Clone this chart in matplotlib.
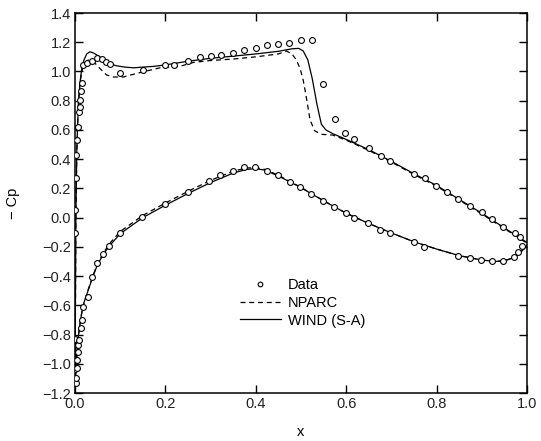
import matplotlib
matplotlib.use("Agg")
import matplotlib.pyplot as plt
from matplotlib.legend_handler import HandlerLine2D
import numpy as np

plt.rcParams['font.family'] = ['Liberation Sans', 'DejaVu Sans']

# experimental data, upper surface
data_up_x = [0.0, 0.0, 0.002, 0.0015, 0.004, 0.006, 0.008, 0.010, 0.011, 0.013, 0.015,
             0.017, 0.026, 0.037, 0.048, 0.059, 0.069, 0.077, 0.099, 0.151, 0.199,
             0.219, 0.250, 0.277, 0.300, 0.323, 0.349, 0.375, 0.400, 0.424, 0.450,
             0.474, 0.499, 0.525, 0.549, 0.575, 0.597, 0.617, 0.650, 0.676, 0.698,
             0.749, 0.774, 0.799, 0.822, 0.848, 0.874, 0.900, 0.922, 0.947, 0.973, 0.985]
data_up_cp = [-0.107, 0.05, 0.269, 0.428, 0.531, 0.622, 0.725, 0.759, 0.805, 0.868, 0.919,
              1.044, 1.056, 1.074, 1.090, 1.083, 1.067, 1.049, 0.987, 1.012, 1.046,
              1.046, 1.070, 1.098, 1.108, 1.115, 1.124, 1.147, 1.158, 1.181, 1.188,
              1.197, 1.215, 1.215, 0.912, 0.675, 0.577, 0.538, 0.478, 0.421, 0.387,
              0.298, 0.269, 0.217, 0.173, 0.127, 0.081, 0.036, -0.010, -0.062, -0.107, -0.131]

# experimental data, lower surface
data_lo_x = [0.002, 0.0015, 0.0, 0.005, 0.005, 0.007, 0.0, 0.007, 0.009, 0.013, 0.015,
             0.018, 0.028, 0.038, 0.049, 0.063, 0.076, 0.100, 0.148, 0.199, 0.249,
             0.297, 0.321, 0.349, 0.374, 0.398, 0.424, 0.450, 0.476, 0.498, 0.523,
             0.549, 0.572, 0.599, 0.618, 0.649, 0.675, 0.698, 0.749, 0.773, 0.848,
             0.874, 0.898, 0.923, 0.948, 0.972, 0.981, 0.988]
data_lo_cp = [-1.134, -1.10, -1.036, -1.03, -0.974, -0.917, -0.833, -0.872, -0.838, -0.758, -0.70,
              -0.614, -0.541, -0.404, -0.313, -0.249, -0.193, -0.105, 0.006, 0.090, 0.177,
              0.250, 0.291, 0.321, 0.344, 0.348, 0.321, 0.291, 0.246, 0.209, 0.165,
              0.116, 0.075, 0.029, -0.005, -0.039, -0.085, -0.107, -0.169, -0.199, -0.261,
              -0.279, -0.290, -0.295, -0.295, -0.272, -0.233, -0.194]

# WIND (S-A)
wind_up_x = [0.0, 0.001, 0.002, 0.004, 0.006, 0.008, 0.011, 0.015, 0.020, 0.026, 0.033,
             0.042, 0.055, 0.070, 0.090, 0.110, 0.130, 0.150, 0.175, 0.200, 0.250,
             0.300, 0.350, 0.400, 0.450, 0.480, 0.495, 0.505, 0.515, 0.525, 0.535,
             0.545, 0.555, 0.570, 0.600, 0.650, 0.700, 0.750, 0.800, 0.850, 0.900,
             0.950, 0.980, 1.000]
wind_up_cp = [-1.15, -0.60, 0.0, 0.45, 0.65, 0.80, 0.92, 1.02, 1.08, 1.12, 1.135,
              1.125, 1.10, 1.065, 1.04, 1.03, 1.025, 1.03, 1.035, 1.045, 1.07,
              1.09, 1.105, 1.12, 1.138, 1.155, 1.158, 1.14, 1.08, 0.95, 0.78,
              0.64, 0.60, 0.575, 0.535, 0.465, 0.385, 0.30, 0.22, 0.125, 0.03,
              -0.07, -0.13, -0.17]
wind_lo_x = [0.0, 0.003, 0.006, 0.010, 0.015, 0.020, 0.030, 0.040, 0.050, 0.065, 0.080,
             0.100, 0.150, 0.200, 0.250, 0.300, 0.350, 0.380, 0.400, 0.420, 0.450,
             0.500, 0.550, 0.600, 0.650, 0.700, 0.750, 0.800, 0.850, 0.900, 0.930,
             0.950, 0.970, 0.985, 1.000]
wind_lo_cp = [-1.15, -1.00, -0.85, -0.75, -0.65, -0.58, -0.49, -0.40, -0.32, -0.24, -0.18,
              -0.11, 0.0, 0.085, 0.165, 0.24, 0.305, 0.33, 0.335, 0.325, 0.285,
              0.205, 0.115, 0.03, -0.04, -0.105, -0.165, -0.215, -0.26, -0.29, -0.30,
              -0.295, -0.275, -0.24, -0.19]

# NPARC
nparc_up_x = [0.0, 0.001, 0.002, 0.004, 0.006, 0.008, 0.011, 0.015, 0.020, 0.029, 0.041,
              0.055, 0.070, 0.085, 0.107, 0.122, 0.151, 0.188, 0.232, 0.262, 0.300,
              0.350, 0.400, 0.450, 0.468, 0.480, 0.490, 0.498, 0.505, 0.512, 0.520,
              0.530, 0.545, 0.570, 0.600, 0.650, 0.700, 0.750, 0.800, 0.850, 0.900,
              0.950, 0.980, 1.000]
nparc_up_cp = [-1.15, -0.60, 0.0, 0.45, 0.65, 0.80, 0.92, 1.00, 1.05, 1.078, 1.067,
               1.021, 0.976, 0.962, 0.962, 0.975, 0.998, 1.025, 1.035, 1.062, 1.075,
               1.085, 1.10, 1.12, 1.14, 1.12, 1.078, 1.02, 0.94, 0.82, 0.67,
               0.595, 0.57, 0.565, 0.53, 0.46, 0.38, 0.295, 0.215, 0.12, 0.025,
               -0.075, -0.135, -0.175]
nparc_lo_x = [0.0, 0.003, 0.006, 0.010, 0.015, 0.020, 0.030, 0.040, 0.050, 0.065, 0.080,
              0.100, 0.150, 0.200, 0.250, 0.300, 0.350, 0.380, 0.400, 0.420, 0.450,
              0.500, 0.550, 0.600, 0.650, 0.700, 0.750, 0.800, 0.850, 0.900, 0.930,
              0.950, 0.970, 0.985, 1.000]
nparc_lo_cp = [-1.15, -1.00, -0.85, -0.75, -0.65, -0.58, -0.485, -0.395, -0.315, -0.23, -0.165,
               -0.095, 0.015, 0.10, 0.18, 0.255, 0.318, 0.34, 0.342, 0.33, 0.29,
               0.207, 0.116, 0.03, -0.04, -0.105, -0.165, -0.215, -0.26, -0.29, -0.30,
               -0.295, -0.275, -0.24, -0.19]


class MarkerAtRight(HandlerLine2D):
    def get_xdata(self, legend, xdescent, ydescent, width, height, fontsize):
        xdata = np.array([-xdescent, -xdescent + width])
        return xdata, np.array([-xdescent + width - 3])


fig = plt.figure(figsize=(5.41, 4.41), dpi=100)
ax = fig.add_axes([0.1386, 0.1088, 0.8355, 0.8617])

ax.plot(data_up_x, data_up_cp, linestyle='none', marker='o', ms=4.2, mfc='white',
        mec='black', mew=0.8, label='Data', zorder=3)
ax.plot(data_lo_x, data_lo_cp, linestyle='none', marker='o', ms=4.2, mfc='white',
        mec='black', mew=0.8, zorder=3)
ax.plot(nparc_up_x, nparc_up_cp, color='black', lw=0.9, linestyle=(0, (4, 3)), label='NPARC')
ax.plot(nparc_lo_x, nparc_lo_cp, color='black', lw=0.9, linestyle=(0, (4, 3)))
ax.plot(wind_up_x, wind_up_cp, color='black', lw=0.9, label='WIND (S-A)')
ax.plot(wind_lo_x, wind_lo_cp, color='black', lw=0.9)

ax.set_xlim(0, 1)
ax.set_ylim(-1.2, 1.4)
ax.set_xticks(np.arange(0, 1.01, 0.2))
ax.set_yticks(np.arange(-1.2, 1.41, 0.2))
ax.xaxis.set_major_formatter(matplotlib.ticker.FormatStrFormatter('%.1f'))
ax.yaxis.set_major_formatter(matplotlib.ticker.FuncFormatter(
    lambda v, p: ('%.1f' % v).replace('-', '\u2212') if abs(v) > 1e-9 else '0.0'))
ax.tick_params(direction='in', length=6, width=1, top=True, right=True,
               labelsize=10.5, labelcolor='#222222', pad=3)
for s in ax.spines.values():
    s.set_linewidth(1.1)

ax.set_xlabel('x', fontsize=10.5, labelpad=10)
ax.set_ylabel('\u2212 Cp', fontsize=10.5, labelpad=16)

ax.legend(loc='center', bbox_to_anchor=(0.504, 0.237), frameon=False, fontsize=10.5,
          handlelength=2.8, handletextpad=0.5, labelspacing=0.25, markerscale=0.8,
          handler_map={matplotlib.lines.Line2D: MarkerAtRight(numpoints=1)})

fig.savefig('out.png', dpi=100)
